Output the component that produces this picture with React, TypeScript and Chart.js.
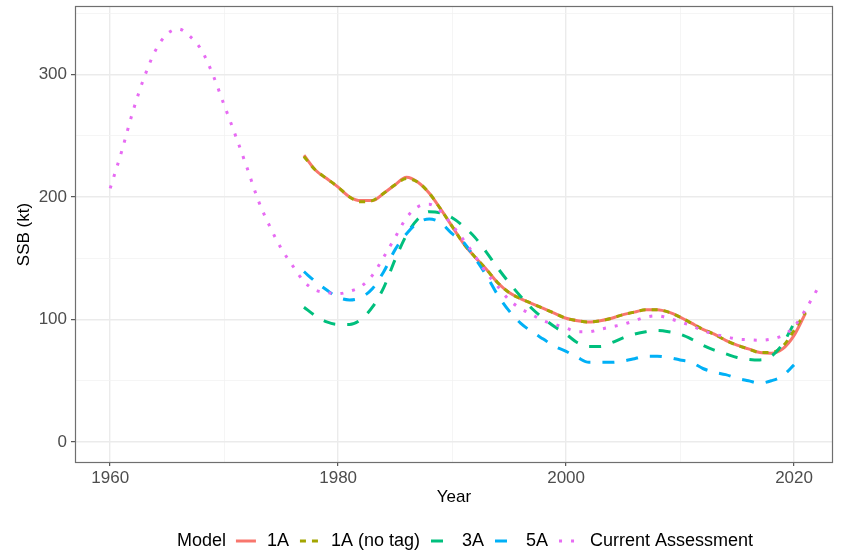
import React, { useEffect, useRef } from "react";
import { Chart, registerables } from "chart.js";

Chart.register(...registerables);

const FONT = '"Liberation Sans", Arial, Helvetica, sans-serif';

// ---- axes ----
const X_TICKS = [1960, 1970, 1980, 1990, 2000, 2010, 2020];
const X_LABELS = [1960, 1980, 2000, 2020];
const Y_TICKS = [0, 50, 100, 150, 200, 250, 300, 350];
const Y_LABELS = [0, 100, 200, 300];
const X_TITLE = "Year";
const Y_TITLE = "SSB (kt)";
const LEGEND_TITLE = "Model";

// ---- data ----
const CA_START = 1960;
const CA_VALUES = [
  207, 237, 270, 298, 320, 333, 337, 331, 320, 300,
  275, 250, 224, 197, 176, 158, 144, 131, 124, 122,
  121, 123, 127, 136, 151, 167, 183, 192, 194, 188,
  177, 165, 152, 138, 127, 116, 109, 104, 99, 96,
  93, 90, 90, 92, 94, 96, 99, 102, 103, 101,
  98, 95, 91, 88, 86, 84, 83.5, 83, 84, 87,
  94, 108, 124,
];

const A1_START = 1977;
const A1_VALUES = [
  234, 222, 215,
  208, 200, 197, 197, 203, 210, 216, 212, 203, 190,
  176, 162, 151, 141, 130, 122, 117, 113, 109, 105,
  101, 99, 98, 99, 101, 104, 106, 108, 108, 106,
  102, 97, 92, 88, 83, 79, 76, 73, 72.5, 76,
  87, 105,
];

const A1NT_START = 1977;
const A1NT_VALUES = [
  233, 222, 215,
  208, 200, 196, 197, 203, 210, 215, 212, 203, 190,
  176, 162, 151, 141, 130, 122, 117, 113, 109, 105,
  101, 99, 98, 99, 101, 104, 106, 108, 108, 106,
  102, 97, 92, 88, 83, 79, 76, 73, 73, 78,
  91, 106,
];

const A3_START = 1977;
const A3_VALUES = [
  110, 103, 98,
  96, 96, 100, 110, 126, 149, 169, 182, 188, 187,
  183, 176, 167, 155, 142, 130, 119, 109, 101, 94,
  88, 81, 78, 78, 81, 85, 88, 90, 91, 90,
  88, 84, 79, 75, 72, 69, 67.5, 67, 70, 80,
  97,
];

const A5_START = 1977;
const A5_VALUES = [
  139, 131, 124,
  118, 116, 118, 125, 139, 157, 170, 179, 182, 179,
  170, 163, 150, 136, 120, 107, 97, 90, 84, 78,
  74, 69, 65, 65, 65, 66, 68, 70, 70, 69,
  67, 65, 60, 57, 55, 52, 50, 48, 50, 54,
  63,
];

const toPoints = (start: number, values: number[]) =>
  values.map((v, i) => ({ x: start + i, y: v }));

const SERIES = [
  { label: "1A", start: A1_START, values: A1_VALUES, color: "#F8766D", dash: [] as number[], width: 3, order: 5 },
  { label: "1A (no tag)", start: A1NT_START, values: A1NT_VALUES, color: "#A3A500", dash: [6, 6], width: 3, order: 4 },
  { label: "3A", start: A3_START, values: A3_VALUES, color: "#00BF7D", dash: [12, 12], width: 3, order: 3 },
  { label: "5A", start: A5_START, values: A5_VALUES, color: "#00B0F6", dash: [12, 12], width: 3, order: 2 },
  { label: "Current Assessment", start: CA_START, values: CA_VALUES, color: "#E76BF3", dash: [3, 9], width: 3, order: 1 },
];

const framePlugin = {
  id: "frameAndLegend",
  afterDraw(chart: any) {
    const { ctx, chartArea: a } = chart;
    ctx.save();
    // panel border
    ctx.strokeStyle = "#6f6f6f";
    ctx.lineWidth = 1.2;
    ctx.setLineDash([]);
    ctx.strokeRect(a.left - 0.5, a.top - 0.5, a.right - a.left + 1, a.bottom - a.top + 1);

    // legend
    ctx.font = `18px ${FONT}`;
    ctx.textBaseline = "middle";
    ctx.textAlign = "left";
    const keyW = 20;
    const gapTitle = 10;
    const gapKey = 11;
    const gapItem = 11;
    let total = ctx.measureText(LEGEND_TITLE).width + gapTitle;
    SERIES.forEach((s, i) => {
      total += keyW + gapKey + ctx.measureText(s.label).width;
      if (i < SERIES.length - 1) total += gapItem;
    });
    const cy = 541;
    let x = 465 - total / 2;
    ctx.fillStyle = "#000000";
    ctx.fillText(LEGEND_TITLE, x, cy);
    x += ctx.measureText(LEGEND_TITLE).width + gapTitle;
    SERIES.forEach((s) => {
      ctx.beginPath();
      ctx.strokeStyle = s.color;
      ctx.lineWidth = s.width;
      ctx.lineCap = "butt";
      ctx.setLineDash(s.dash);
      ctx.moveTo(x, cy);
      ctx.lineTo(x + keyW, cy);
      ctx.stroke();
      ctx.setLineDash([]);
      x += keyW + gapKey;
      ctx.fillStyle = "#000000";
      ctx.fillText(s.label, x, cy);
      x += ctx.measureText(s.label).width + gapItem;
    });
    ctx.restore();
  },
};

export default function App() {
  const ref = useRef<HTMLCanvasElement>(null);

  useEffect(() => {
    const canvas = ref.current;
    if (!canvas) return;
    Chart.defaults.font.family = FONT;

    const datasets = SERIES.map((s) => ({
      label: s.label,
      data: toPoints(s.start, s.values),
      borderColor: s.color,
      backgroundColor: s.color,
      borderWidth: s.width,
      borderDash: s.dash,
      borderCapStyle: "butt" as const,
      borderJoinStyle: "round" as const,
      pointRadius: 0,
      pointHoverRadius: 0,
      fill: false,
      cubicInterpolationMode: "monotone" as const,
      order: s.order,
    }));

    const chart = new Chart(canvas, {
      type: "line",
      data: { datasets },
      plugins: [framePlugin],
      options: {
        responsive: false,
        devicePixelRatio: 1,
        animation: false,
        layout: { padding: { left: 0, top: 7, right: 12, bottom: 0 } },
        plugins: {
          legend: { display: false },
          tooltip: { enabled: false },
        },
        scales: {
          x: {
            type: "linear",
            min: 1957.0,
            max: 2023.33,
            afterBuildTicks: (scale: any) => {
              scale.ticks = X_TICKS.map((v) => ({ value: v }));
            },
            afterFit: (scale: any) => {
              scale.height = 88;
              scale.paddingLeft = 0;
              scale.paddingRight = 0;
            },
            border: { display: false },
            grid: {
              color: (c: any) => (X_LABELS.includes(c.tick?.value) ? "#EBEBEB" : "#F3F3F3"),
              lineWidth: (c: any) => (X_LABELS.includes(c.tick?.value) ? 1.4 : 0.8),
              tickColor: (c: any) => (X_LABELS.includes(c.tick?.value) ? "#333333" : "rgba(0,0,0,0)"),
              tickWidth: 1,
              tickLength: 4,
              drawTicks: true,
            },
            ticks: {
              autoSkip: false,
              maxRotation: 0,
              padding: 2,
              color: "#4D4D4D",
              font: { size: 17, family: FONT },
              callback: (v: any) => (X_LABELS.includes(Number(v)) ? String(v) : ""),
            },
            title: {
              display: true,
              text: X_TITLE,
              color: "#000000",
              font: { size: 17, family: FONT },
              padding: { top: 0, bottom: 42 },
            },
          },
          y: {
            type: "linear",
            min: -16.3,
            max: 355,
            afterBuildTicks: (scale: any) => {
              scale.ticks = Y_TICKS.map((v) => ({ value: v }));
            },
            afterFit: (scale: any) => {
              scale.width = 76;
              scale.paddingTop = 0;
              scale.paddingBottom = 0;
            },
            border: { display: false },
            grid: {
              color: (c: any) => (Y_LABELS.includes(c.tick?.value) ? "#EBEBEB" : "#F3F3F3"),
              lineWidth: (c: any) => (Y_LABELS.includes(c.tick?.value) ? 1.4 : 0.8),
              tickColor: (c: any) => (Y_LABELS.includes(c.tick?.value) ? "#333333" : "rgba(0,0,0,0)"),
              tickWidth: 1,
              tickLength: 5,
              drawTicks: true,
            },
            ticks: {
              autoSkip: false,
              padding: 4,
              color: "#4D4D4D",
              font: { size: 17, family: FONT },
              callback: (v: any) => (Y_LABELS.includes(Number(v)) ? String(v) : ""),
            },
            title: {
              display: true,
              text: Y_TITLE,
              color: "#000000",
              font: { size: 17, family: FONT },
              padding: { top: 14, bottom: 0 },
            },
          },
        },
      },
    });

    return () => chart.destroy();
  }, []);

  return (
    <div style={{ position: "absolute", left: 0, top: 0, width: 844, height: 550, background: "#ffffff" }}>
      <canvas ref={ref} width={844} height={550} style={{ display: "block", width: 844, height: 550 }} />
    </div>
  );
}
